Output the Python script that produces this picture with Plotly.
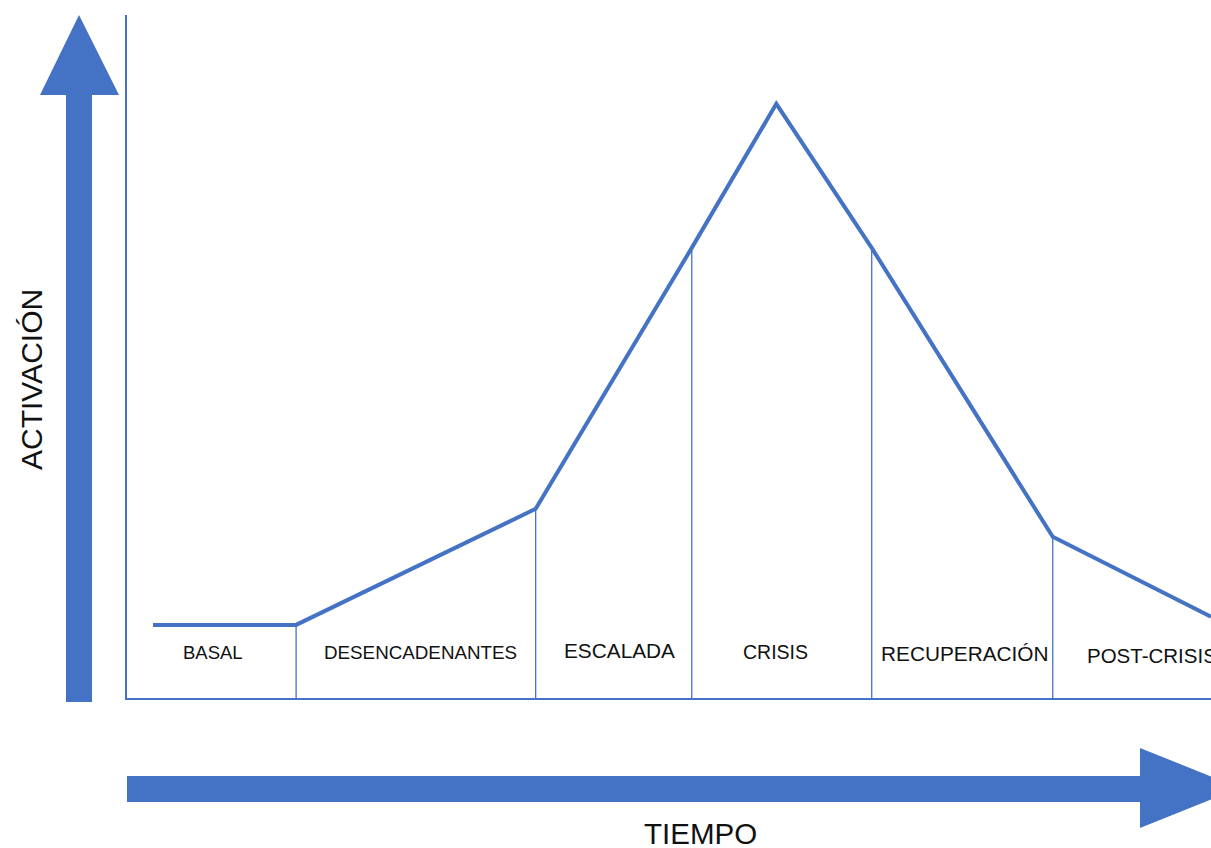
import numpy as np
import plotly.graph_objects as go

# ---- data (time in arbitrary units 0-100, activation 0-100) ----
tiempo = [2.4, 15.6, 37.7, 52.1, 59.9, 68.7, 85.4, 100.0]
activacion = [10.7, 10.7, 27.7, 65.9, 87.0, 65.9, 23.6, 11.9]
limites_fase = [15.6, 37.7, 52.1, 68.7, 85.4]
fases = ["BASAL", "DESENCADENANTES", "ESCALADA", "CRISIS", "RECUPERACIÓN", "POST-CRISIS"]
centro_fase = [7.9, 27.1, 45.4, 59.8, 77.3, 94.6]
altura_etiqueta = [6.7, 6.7, 7.0, 6.7, 6.5, 6.2]
tam_etiqueta = [18.5, 18.8, 20.8, 19.5, 20.8, 20.5]

BLUE = "#4472C4"
W, H = 1211, 848
L, R, T, B = 127, 0, 15, 150

fig = go.Figure()

# phase separators
vx, vy = [], []
for b in limites_fase:
    top = float(np.interp(b, tiempo, activacion))
    vx += [b, b, None]
    vy += [0, top, None]
fig.add_trace(go.Scatter(x=vx, y=vy, mode="lines",
                         line=dict(color=BLUE, width=1.3),
                         hoverinfo="skip", showlegend=False))

# activation curve
fig.add_trace(go.Scatter(x=tiempo, y=activacion, mode="lines",
                         line=dict(color=BLUE, width=4),
                         showlegend=False, cliponaxis=False))

# phase labels
for name, cx, cy, s in zip(fases, centro_fase, altura_etiqueta, tam_etiqueta):
    fig.add_annotation(x=cx, y=cy, text=name, showarrow=False,
                       font=dict(family="Liberation Sans, Arial", size=s, color="#111"),
                       xanchor="center", yanchor="middle")

# helpers for decorative arrows (pixel -> paper)
pw, ph = W - L - R, H - T - B
def px(x):
    return (x - L) / pw
def py(y):
    return (H - B - y) / ph

def path(pts):
    return "M " + " L ".join(f"{px(a):.5f},{py(b):.5f}" for a, b in pts) + " Z"

up_arrow = [(66, 702), (66, 95), (40, 95), (79, 15), (119, 95), (92, 95), (92, 702)]
right_arrow = [(127, 776), (1140, 776), (1140, 748), (1240, 788), (1140, 828),
               (1140, 802), (127, 802)]
for pts in (up_arrow, right_arrow):
    fig.add_shape(type="path", xref="paper", yref="paper", path=path(pts),
                  fillcolor=BLUE, line=dict(width=0), layer="above")

fig.add_annotation(xref="paper", yref="paper", x=px(31), y=py(380),
                   text="ACTIVACIÓN", textangle=-90, showarrow=False,
                   font=dict(family="Liberation Sans, Arial", size=30, color="#111"),
                   xanchor="center", yanchor="middle")
fig.add_annotation(xref="paper", yref="paper", x=px(700), y=py(833),
                   text="TIEMPO", showarrow=False,
                   font=dict(family="Liberation Sans, Arial", size=29.5, color="#111"),
                   xanchor="center", yanchor="middle")

fig.update_layout(
    width=W, height=H,
    margin=dict(l=L, r=R, t=T, b=B, pad=0),
    plot_bgcolor="white", paper_bgcolor="white",
    xaxis=dict(range=[0, 100], showgrid=False, zeroline=False, showticklabels=False,
               ticks="", showline=True, linecolor=BLUE, linewidth=1.5, fixedrange=True),
    yaxis=dict(range=[0, 100], showgrid=False, zeroline=False, showticklabels=False,
               ticks="", showline=True, linecolor=BLUE, linewidth=1.5, fixedrange=True),
)

fig.write_html("out.html", config={"displayModeBar": False},
               post_script="document.body.style.margin='0';document.body.style.overflow='hidden';")
